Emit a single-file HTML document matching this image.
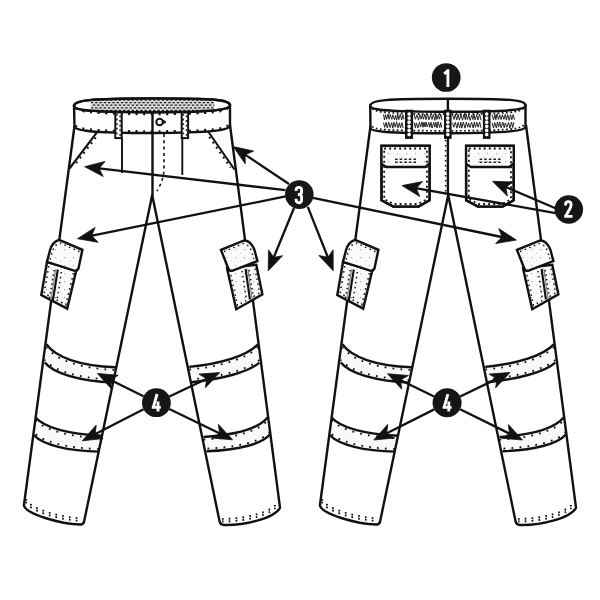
<!DOCTYPE html>
<html><head><meta charset="utf-8"><style>html,body{margin:0;padding:0;background:#fff;}svg{display:block;}</style></head>
<body><svg width="600" height="600" viewBox="0 0 600 600" font-family="Liberation Sans, sans-serif">
<defs>
<pattern id="stip" width="9" height="8" patternUnits="userSpaceOnUse">
<rect width="9" height="8" fill="#fbfbfb"/>
<rect x="1" y="1" width="1.2" height="1.2" fill="#aaa"/><rect x="6" y="4.5" width="1" height="1" fill="#ccc"/>
</pattern>
</defs>
<rect width="600" height="600" fill="#fff"/>
<g transform="translate(0,0)">
<path d="M46.4,344.2 C55,357 80,366 115.3,367.2 L113.5,382.6 C78,381 53,373 44.8,362.6 Z" fill="#f9f9f9" stroke="none"/>
<path d="M46.4,344.2 C55,357 80,366 115.3,367.2" fill="none" stroke="#111" stroke-width="2.4" />
<path d="M113.5,382.6 C78,381 53,373 44.8,362.6" fill="none" stroke="#111" stroke-width="2.4" />
<path d="M46.4,344.2 C55,357 80,366 115.3,367.2" fill="none" stroke="#111" stroke-width="1.8" stroke-dasharray="1.8 6.2" transform="translate(0,2.7)"/>
<path d="M113.5,382.6 C78,381 53,373 44.8,362.6" fill="none" stroke="#111" stroke-width="1.8" stroke-dasharray="1.8 6.2" transform="translate(0,-2.7)"/>
<path d="M35.6,417.5 C45,428 70,434 102.4,435.8 L99,451.6 C68,451 43,445 34,435.3 Z" fill="#f9f9f9" stroke="none"/>
<path d="M35.6,417.5 C45,428 70,434 102.4,435.8" fill="none" stroke="#111" stroke-width="2.4" />
<path d="M99,451.6 C68,451 43,445 34,435.3" fill="none" stroke="#111" stroke-width="2.4" />
<path d="M35.6,417.5 C45,428 70,434 102.4,435.8" fill="none" stroke="#111" stroke-width="1.8" stroke-dasharray="1.8 6.2" transform="translate(0,2.7)"/>
<path d="M99,451.6 C68,451 43,445 34,435.3" fill="none" stroke="#111" stroke-width="1.8" stroke-dasharray="1.8 6.2" transform="translate(0,-2.7)"/>
<path d="M189.2,366.9 C220,364 247,356 257.8,344.4 L259.3,362.6 C249,372 222,379 191.6,382.2 Z" fill="#f9f9f9" stroke="none"/>
<path d="M189.2,366.9 C220,364 247,356 257.8,344.4" fill="none" stroke="#111" stroke-width="2.4" />
<path d="M259.3,362.6 C249,372 222,379 191.6,382.2" fill="none" stroke="#111" stroke-width="2.4" />
<path d="M189.2,366.9 C220,364 247,356 257.8,344.4" fill="none" stroke="#111" stroke-width="1.8" stroke-dasharray="1.8 6.2" transform="translate(0,2.7)"/>
<path d="M259.3,362.6 C249,372 222,379 191.6,382.2" fill="none" stroke="#111" stroke-width="1.8" stroke-dasharray="1.8 6.2" transform="translate(0,-2.7)"/>
<path d="M203.5,437 C235,435 258,429 267.6,417.5 L269.8,434.5 C262,444 238,450 206.5,451.3 Z" fill="#f9f9f9" stroke="none"/>
<path d="M203.5,437 C235,435 258,429 267.6,417.5" fill="none" stroke="#111" stroke-width="2.4" />
<path d="M269.8,434.5 C262,444 238,450 206.5,451.3" fill="none" stroke="#111" stroke-width="2.4" />
<path d="M203.5,437 C235,435 258,429 267.6,417.5" fill="none" stroke="#111" stroke-width="1.8" stroke-dasharray="1.8 6.2" transform="translate(0,2.7)"/>
<path d="M269.8,434.5 C262,444 238,450 206.5,451.3" fill="none" stroke="#111" stroke-width="1.8" stroke-dasharray="1.8 6.2" transform="translate(0,-2.7)"/>
<path d="M74.5,126 L23.9,505.5 C26,514 60,524 80.5,524.5 Q83.6,524.3 84.1,521.5 L152.2,195 L219.6,521.5 Q220.3,524.8 224,525 C245,525.5 275,518 280,507.7 L230,125" fill="none" stroke="#111" stroke-width="2.4" stroke-linejoin="round"/>
<path d="M26,505.5 C28,514 60,524 82,524.5" transform="translate(0,-3.6)" fill="none" stroke="#111" stroke-width="1.8" stroke-dasharray="1.7 5.1"/>
<path d="M222,525 C245,525.5 275,518 278.5,507" transform="translate(0,-3.6)" fill="none" stroke="#111" stroke-width="1.8" stroke-dasharray="1.7 5.1"/>
<path d="M26,505.5 C28,514 60,524 82,524.5" transform="translate(0,-6.2)" fill="none" stroke="#111" stroke-width="1.8" stroke-dasharray="1.7 5.1"/>
<path d="M222,525 C245,525.5 275,518 278.5,507" transform="translate(0,-6.2)" fill="none" stroke="#111" stroke-width="1.8" stroke-dasharray="1.7 5.1"/>
<path d="M47,262 L41.3,295 L67.2,308.6 L76.3,270.3 Z" fill="url(#stip)" stroke="#111" stroke-width="2.4" />
<path d="M48.7,266 L44.2,293.3 L65.8,304.8 L73.8,272" fill="none" stroke="#111" stroke-width="1.6" stroke-dasharray="1.6 3.6"/>
<path d="M47,261.8 L50.2,249.5 Q52.5,242 59,239.8 L82.4,249.8 L78.6,268 Q77.5,271.2 74,270.6 Z" fill="url(#stip)" stroke="#111" stroke-width="2.4" />
<path d="M50,259.5 L53,250 Q55,244.5 60,243 L79.5,251.5" fill="none" stroke="#111" stroke-width="1.4" stroke-dasharray="1.5 3.5"/>
<path d="M57.8,269.5 L52.8,301" fill="none" stroke="#111" stroke-width="2.1" />
<path d="M55.6,269.5 L50.8,300.5" fill="none" stroke="#666" stroke-width="0.9" />
<path d="M54.2,270 L49.6,298" fill="none" stroke="#111" stroke-width="1.5" stroke-dasharray="1.5 3"/>
<path d="M61.4,272 L57.2,299" fill="none" stroke="#111" stroke-width="1.5" stroke-dasharray="1.5 3.5"/>
<path d="M227,268.2 L236.2,309.2 L262.4,294.4 L256.3,264.7 Z" fill="url(#stip)" stroke="#111" stroke-width="2.4" />
<path d="M229.8,270 L237.5,305.5 L259.6,293 L254.6,266.5" fill="none" stroke="#111" stroke-width="1.4" stroke-dasharray="1.5 3.5"/>
<path d="M220.9,249.8 L244.7,240.2 Q251.5,241.5 254.5,250 L257.4,261.1 L232,270.8 Q229.3,271.3 228.3,268.5 Z" fill="url(#stip)" stroke="#111" stroke-width="2.4" />
<path d="M224,251.5 L243.5,243.5 Q249,244.5 251.5,251 L253.8,259" fill="none" stroke="#111" stroke-width="1.4" stroke-dasharray="1.5 3.5"/>
<path d="M245.6,269 L249.9,299.3" fill="none" stroke="#111" stroke-width="2.1" />
<path d="M247.8,268.6 L252.1,299" fill="none" stroke="#666" stroke-width="0.9" />
<path d="M242,271 L246.2,298" fill="none" stroke="#111" stroke-width="1.5" stroke-dasharray="1.5 3.5"/>
<path d="M249.2,270 L253.2,297" fill="none" stroke="#111" stroke-width="1.5" stroke-dasharray="1.5 3"/>
</g>
<g transform="translate(296,0)">
<path d="M46.4,344.2 C55,357 80,366 115.3,367.2 L113.5,382.6 C78,381 53,373 44.8,362.6 Z" fill="#f9f9f9" stroke="none"/>
<path d="M46.4,344.2 C55,357 80,366 115.3,367.2" fill="none" stroke="#111" stroke-width="2.4" />
<path d="M113.5,382.6 C78,381 53,373 44.8,362.6" fill="none" stroke="#111" stroke-width="2.4" />
<path d="M46.4,344.2 C55,357 80,366 115.3,367.2" fill="none" stroke="#111" stroke-width="1.8" stroke-dasharray="1.8 6.2" transform="translate(0,2.7)"/>
<path d="M113.5,382.6 C78,381 53,373 44.8,362.6" fill="none" stroke="#111" stroke-width="1.8" stroke-dasharray="1.8 6.2" transform="translate(0,-2.7)"/>
<path d="M35.6,417.5 C45,428 70,434 102.4,435.8 L99,451.6 C68,451 43,445 34,435.3 Z" fill="#f9f9f9" stroke="none"/>
<path d="M35.6,417.5 C45,428 70,434 102.4,435.8" fill="none" stroke="#111" stroke-width="2.4" />
<path d="M99,451.6 C68,451 43,445 34,435.3" fill="none" stroke="#111" stroke-width="2.4" />
<path d="M35.6,417.5 C45,428 70,434 102.4,435.8" fill="none" stroke="#111" stroke-width="1.8" stroke-dasharray="1.8 6.2" transform="translate(0,2.7)"/>
<path d="M99,451.6 C68,451 43,445 34,435.3" fill="none" stroke="#111" stroke-width="1.8" stroke-dasharray="1.8 6.2" transform="translate(0,-2.7)"/>
<path d="M189.2,366.9 C220,364 247,356 257.8,344.4 L259.3,362.6 C249,372 222,379 191.6,382.2 Z" fill="#f9f9f9" stroke="none"/>
<path d="M189.2,366.9 C220,364 247,356 257.8,344.4" fill="none" stroke="#111" stroke-width="2.4" />
<path d="M259.3,362.6 C249,372 222,379 191.6,382.2" fill="none" stroke="#111" stroke-width="2.4" />
<path d="M189.2,366.9 C220,364 247,356 257.8,344.4" fill="none" stroke="#111" stroke-width="1.8" stroke-dasharray="1.8 6.2" transform="translate(0,2.7)"/>
<path d="M259.3,362.6 C249,372 222,379 191.6,382.2" fill="none" stroke="#111" stroke-width="1.8" stroke-dasharray="1.8 6.2" transform="translate(0,-2.7)"/>
<path d="M203.5,437 C235,435 258,429 267.6,417.5 L269.8,434.5 C262,444 238,450 206.5,451.3 Z" fill="#f9f9f9" stroke="none"/>
<path d="M203.5,437 C235,435 258,429 267.6,417.5" fill="none" stroke="#111" stroke-width="2.4" />
<path d="M269.8,434.5 C262,444 238,450 206.5,451.3" fill="none" stroke="#111" stroke-width="2.4" />
<path d="M203.5,437 C235,435 258,429 267.6,417.5" fill="none" stroke="#111" stroke-width="1.8" stroke-dasharray="1.8 6.2" transform="translate(0,2.7)"/>
<path d="M269.8,434.5 C262,444 238,450 206.5,451.3" fill="none" stroke="#111" stroke-width="1.8" stroke-dasharray="1.8 6.2" transform="translate(0,-2.7)"/>
<path d="M74.5,126 L23.9,505.5 C26,514 60,524 80.5,524.5 Q83.6,524.3 84.1,521.5 L152.2,195 L219.6,521.5 Q220.3,524.8 224,525 C245,525.5 275,518 280,507.7 L230,125" fill="none" stroke="#111" stroke-width="2.4" stroke-linejoin="round"/>
<path d="M26,505.5 C28,514 60,524 82,524.5" transform="translate(0,-3.6)" fill="none" stroke="#111" stroke-width="1.8" stroke-dasharray="1.7 5.1"/>
<path d="M222,525 C245,525.5 275,518 278.5,507" transform="translate(0,-3.6)" fill="none" stroke="#111" stroke-width="1.8" stroke-dasharray="1.7 5.1"/>
<path d="M26,505.5 C28,514 60,524 82,524.5" transform="translate(0,-6.2)" fill="none" stroke="#111" stroke-width="1.8" stroke-dasharray="1.7 5.1"/>
<path d="M222,525 C245,525.5 275,518 278.5,507" transform="translate(0,-6.2)" fill="none" stroke="#111" stroke-width="1.8" stroke-dasharray="1.7 5.1"/>
<path d="M47,262 L41.3,295 L67.2,308.6 L76.3,270.3 Z" fill="url(#stip)" stroke="#111" stroke-width="2.4" />
<path d="M48.7,266 L44.2,293.3 L65.8,304.8 L73.8,272" fill="none" stroke="#111" stroke-width="1.6" stroke-dasharray="1.6 3.6"/>
<path d="M47,261.8 L50.2,249.5 Q52.5,242 59,239.8 L82.4,249.8 L78.6,268 Q77.5,271.2 74,270.6 Z" fill="url(#stip)" stroke="#111" stroke-width="2.4" />
<path d="M50,259.5 L53,250 Q55,244.5 60,243 L79.5,251.5" fill="none" stroke="#111" stroke-width="1.4" stroke-dasharray="1.5 3.5"/>
<path d="M57.8,269.5 L52.8,301" fill="none" stroke="#111" stroke-width="2.1" />
<path d="M55.6,269.5 L50.8,300.5" fill="none" stroke="#666" stroke-width="0.9" />
<path d="M54.2,270 L49.6,298" fill="none" stroke="#111" stroke-width="1.5" stroke-dasharray="1.5 3"/>
<path d="M61.4,272 L57.2,299" fill="none" stroke="#111" stroke-width="1.5" stroke-dasharray="1.5 3.5"/>
<path d="M227,268.2 L236.2,309.2 L262.4,294.4 L256.3,264.7 Z" fill="url(#stip)" stroke="#111" stroke-width="2.4" />
<path d="M229.8,270 L237.5,305.5 L259.6,293 L254.6,266.5" fill="none" stroke="#111" stroke-width="1.4" stroke-dasharray="1.5 3.5"/>
<path d="M220.9,249.8 L244.7,240.2 Q251.5,241.5 254.5,250 L257.4,261.1 L232,270.8 Q229.3,271.3 228.3,268.5 Z" fill="url(#stip)" stroke="#111" stroke-width="2.4" />
<path d="M224,251.5 L243.5,243.5 Q249,244.5 251.5,251 L253.8,259" fill="none" stroke="#111" stroke-width="1.4" stroke-dasharray="1.5 3.5"/>
<path d="M245.6,269 L249.9,299.3" fill="none" stroke="#111" stroke-width="2.1" />
<path d="M247.8,268.6 L252.1,299" fill="none" stroke="#666" stroke-width="0.9" />
<path d="M242,271 L246.2,298" fill="none" stroke="#111" stroke-width="1.5" stroke-dasharray="1.5 3.5"/>
<path d="M249.2,270 L253.2,297" fill="none" stroke="#111" stroke-width="1.5" stroke-dasharray="1.5 3"/>
</g>
<path d="M74,106 L74.5,126.3 C74.5,130.5 90,133 152,133 C214,133 230,130 230,125.3 L230,105.3 Z" fill="#fff" stroke="#111" stroke-width="2.4" />
<path d="M74,106 C74,100.2 89,98.5 152.0,98.5 C215,98.5 230,99.5 230,105.3 C230,109.5 215,112.2 152.0,112.2 C89,112.2 74,110.2 74,106 Z" fill="#fff" stroke="#111" stroke-width="2.4" />
<clipPath id="wclip"><path d="M74,106 C74,100.2 89,98.5 152.0,98.5 C215,98.5 230,99.5 230,105.3 C230,109.5 215,112.2 152.0,112.2 C89,112.2 74,110.2 74,106 Z"/></clipPath><clipPath id="wclip2"><path d="M92,98 L213,98 Q215.5,105 213,112.5 L92,112.5 Q89.5,105 92,98 Z"/></clipPath>
<g clip-path="url(#wclip)"><g clip-path="url(#wclip2)"><rect x="88" y="97" width="130" height="16" fill="#dcdcdc"/>
<line x1="80" y1="100.0" x2="225" y2="100.0" stroke="#1c1c1c" stroke-width="1.25" stroke-dasharray="2.4 1.9" stroke-dashoffset="0.0"/>
<line x1="80" y1="102.6" x2="225" y2="102.6" stroke="#1c1c1c" stroke-width="1.25" stroke-dasharray="2.4 1.9" stroke-dashoffset="2.1"/>
<line x1="80" y1="105.2" x2="225" y2="105.2" stroke="#1c1c1c" stroke-width="1.25" stroke-dasharray="2.4 1.9" stroke-dashoffset="0.0"/>
<line x1="80" y1="107.8" x2="225" y2="107.8" stroke="#1c1c1c" stroke-width="1.25" stroke-dasharray="2.4 1.9" stroke-dashoffset="2.1"/>
<line x1="80" y1="110.4" x2="225" y2="110.4" stroke="#1c1c1c" stroke-width="1.25" stroke-dasharray="2.4 1.9" stroke-dashoffset="0.0"/>
</g></g>
<path d="M74,106 C74,100.2 89,98.5 152.0,98.5 C215,98.5 230,99.5 230,105.3 C230,109.5 215,112.2 152.0,112.2 C89,112.2 74,110.2 74,106 Z" fill="none" stroke="#111" stroke-width="2.4" />
<path d="M76,107.8 C76,110.8 89,114.1 152,114.1 C215,114.1 228,111.2 228,107.2" fill="none" stroke="#111" stroke-width="2.2" stroke-dasharray="2.1 5.5"/>
<path d="M76,125.2 C76,128.6 90,131.2 152,131.2 C214,131.2 228,128.4 228,124.2" fill="none" stroke="#111" stroke-width="2.1" stroke-dasharray="2 5.6"/>
<rect x="115.3" y="112.5" width="6.400000000000006" height="25.6" fill="#fff" stroke="#111" stroke-width="2"/>
<path d="M116.9,114 L116.9,137" fill="none" stroke="#222" stroke-width="1.6" stroke-dasharray="1.8 2.8"/>
<path d="M120.1,115.5 L120.1,137" fill="none" stroke="#222" stroke-width="1.6" stroke-dasharray="1.8 2.8"/>
<rect x="181.7" y="112.5" width="6.400000000000006" height="25.6" fill="#fff" stroke="#111" stroke-width="2"/>
<path d="M183.3,114 L183.3,137" fill="none" stroke="#222" stroke-width="1.6" stroke-dasharray="1.8 2.8"/>
<path d="M186.5,115.5 L186.5,137" fill="none" stroke="#222" stroke-width="1.6" stroke-dasharray="1.8 2.8"/>
<line x1="152.5" y1="112.0" x2="152.5" y2="195.5" stroke="#111" stroke-width="2.4" />
<path d="M164,134 L164,170 Q163.5,180 157,191" fill="none" stroke="#111" stroke-width="1.6" stroke-dasharray="3 3.3"/>
<path d="M163.2,120.2 L166,122 L163.2,123.8 Z" fill="#111" stroke="#111" stroke-width="1"/>
<circle cx="159.6" cy="122" r="3.3" fill="#fff" stroke="#111" stroke-width="2"/>
<line x1="122.0" y1="138.0" x2="122.0" y2="173.0" stroke="#111" stroke-width="1.9" />
<line x1="182.3" y1="138.0" x2="182.3" y2="175.0" stroke="#111" stroke-width="1.9" />
<line x1="97.3" y1="131.8" x2="69.5" y2="168.5" stroke="#111" stroke-width="2.1" />
<path d="M95.8,137.5 L74,166.1" fill="none" stroke="#111" stroke-width="2.0" stroke-dasharray="1.9 4.2"/>
<line x1="207.8" y1="131.0" x2="234.5" y2="169.5" stroke="#111" stroke-width="2.1" />
<path d="M209.2,136.9 L230.6,167.6" fill="none" stroke="#111" stroke-width="2.0" stroke-dasharray="1.9 4.2"/>
<path d="M370.2,105.8 L370.5,128 C370.5,131.6 386,133.2 448,133.2 C510,133.2 525.5,130.5 525.5,126.5 L525.5,105.4 Z" fill="#fff" stroke="#111" stroke-width="2.4" />
<path d="M370.2,105.8 C370.2,100.0 385.2,98.7 447.85,98.7 C510.5,98.7 525.5,99.60000000000001 525.5,105.4 C525.5,109.60000000000001 510.5,111.8 447.85,111.8 C385.2,111.8 370.2,110.0 370.2,105.8 Z" fill="#fff" stroke="#111" stroke-width="2.4" />
<polyline points="383.5,114.4 384.5,120.0 385.5,114.6 386.7,119.3 388.0,114.0 389.2,119.3 390.2,114.5 391.8,119.3 392.8,114.8 394.5,119.9 395.7,115.2 396.6,120.2 397.8,114.2 398.8,119.6 400.3,114.2 401.7,120.0 402.9,114.7 403.8,119.3" fill="none" stroke="#1a1a1a" stroke-width="0.95"/>
<polyline points="383.5,122.6 384.7,127.4 386.1,122.3 387.3,128.0 388.7,122.1 390.1,127.6 391.7,122.7 392.8,128.2 393.8,122.3 395.3,127.2 396.6,121.8 398.0,127.9 399.4,122.9 400.5,127.8 401.9,122.5 403.2,128.0" fill="none" stroke="#1a1a1a" stroke-width="0.95"/>
<polyline points="414.0,114.6 415.4,119.3 416.9,114.8 418.6,120.2 419.7,114.5 421.1,119.2 422.4,114.2 423.4,119.3 424.9,114.2 426.0,119.7 427.6,114.1 428.9,119.9 430.5,115.0 432.1,119.5 433.3,114.4 434.9,120.3 435.9,114.2 437.0,119.5 438.3,114.7 439.4,119.2 440.7,114.4 442.0,120.3" fill="none" stroke="#1a1a1a" stroke-width="0.95"/>
<polyline points="414.0,122.4 415.4,127.8 416.3,122.9 417.9,128.0 419.4,122.3 420.6,127.1 422.0,121.9 423.0,127.3 424.0,122.2 425.0,127.0 426.0,121.9 427.2,127.0 428.8,122.5 429.8,127.3 431.0,122.2 432.0,128.0 433.7,122.4 434.9,127.1 435.9,122.2 437.0,128.0 438.1,121.8 439.7,127.6 440.7,122.5 441.7,127.6" fill="none" stroke="#1a1a1a" stroke-width="0.95"/>
<polyline points="452.5,115.0 454.0,119.5 455.2,114.2 456.7,119.8 458.2,114.4 459.3,120.2 461.0,115.0 462.5,120.2 464.0,114.3 465.3,119.6 466.2,114.0 467.4,119.5 468.8,115.1 470.1,120.3 471.8,115.1 472.9,119.5 474.0,114.2 475.1,119.9 476.7,115.0 478.0,120.0 479.5,114.1 481.0,120.3" fill="none" stroke="#1a1a1a" stroke-width="0.95"/>
<polyline points="452.5,122.7 453.8,127.2 455.3,122.2 456.9,128.2 458.1,122.3 459.7,127.9 460.8,122.0 461.8,128.1 463.3,122.0 464.9,128.2 466.3,122.2 467.7,127.2 468.6,123.0 470.0,127.6 471.6,122.3 473.2,128.0 474.3,122.1 475.4,127.3 476.8,122.1 478.0,127.2 479.7,122.2 480.9,127.7" fill="none" stroke="#1a1a1a" stroke-width="0.95"/>
<polyline points="492.0,114.5 493.6,119.8 495.0,114.6 495.9,119.7 496.9,114.0 498.5,119.4 499.7,114.9 501.1,119.6 502.4,114.7 503.9,119.3 505.3,114.3 506.4,120.1 507.7,114.7 509.2,120.3 510.5,114.7 511.8,119.8 513.2,114.5 514.6,119.8" fill="none" stroke="#1a1a1a" stroke-width="0.95"/>
<polyline points="492.0,122.6 493.6,128.1 494.7,122.5 496.4,128.0 497.4,121.9 498.6,127.1 499.7,121.9 501.2,127.9 502.8,122.0 504.2,127.8 505.3,122.9 506.9,127.3 508.6,122.3 509.9,128.2 511.5,122.0 512.7,127.6 513.9,122.0" fill="none" stroke="#1a1a1a" stroke-width="0.95"/>
<path d="M372.5,108.5 C372.5,111.5 387,114.2 448,114.2 C509,114.2 523.5,111.8 523.5,107.5" fill="none" stroke="#111" stroke-width="1.7" stroke-dasharray="1.8 2.4"/>
<path d="M372.5,126.2 C372.5,129.6 387,130.8 448,130.8 C509,130.8 523.5,128.6 523.5,124.6" fill="none" stroke="#111" stroke-width="1.7" stroke-dasharray="1.8 2.4"/>
<rect x="405.8" y="110.5" width="6.5" height="27.6" fill="#1a1a1a" stroke="#111" stroke-width="1.6"/>
<ellipse cx="409.1" cy="114.0" rx="1.75" ry="1.85" fill="#fff"/>
<ellipse cx="409.1" cy="118.1" rx="1.75" ry="1.85" fill="#fff"/>
<ellipse cx="409.1" cy="122.2" rx="1.75" ry="1.85" fill="#fff"/>
<ellipse cx="409.1" cy="126.3" rx="1.75" ry="1.85" fill="#fff"/>
<ellipse cx="409.1" cy="130.4" rx="1.75" ry="1.85" fill="#fff"/>
<ellipse cx="409.1" cy="134.5" rx="1.75" ry="1.85" fill="#fff"/>
<rect x="444.8" y="110.5" width="6.0" height="27.6" fill="#1a1a1a" stroke="#111" stroke-width="1.6"/>
<ellipse cx="447.8" cy="114.0" rx="1.75" ry="1.85" fill="#fff"/>
<ellipse cx="447.8" cy="118.1" rx="1.75" ry="1.85" fill="#fff"/>
<ellipse cx="447.8" cy="122.2" rx="1.75" ry="1.85" fill="#fff"/>
<ellipse cx="447.8" cy="126.3" rx="1.75" ry="1.85" fill="#fff"/>
<ellipse cx="447.8" cy="130.4" rx="1.75" ry="1.85" fill="#fff"/>
<ellipse cx="447.8" cy="134.5" rx="1.75" ry="1.85" fill="#fff"/>
<rect x="483.7" y="110.5" width="6.0" height="27.6" fill="#1a1a1a" stroke="#111" stroke-width="1.6"/>
<ellipse cx="486.7" cy="114.0" rx="1.75" ry="1.85" fill="#fff"/>
<ellipse cx="486.7" cy="118.1" rx="1.75" ry="1.85" fill="#fff"/>
<ellipse cx="486.7" cy="122.2" rx="1.75" ry="1.85" fill="#fff"/>
<ellipse cx="486.7" cy="126.3" rx="1.75" ry="1.85" fill="#fff"/>
<ellipse cx="486.7" cy="130.4" rx="1.75" ry="1.85" fill="#fff"/>
<ellipse cx="486.7" cy="134.5" rx="1.75" ry="1.85" fill="#fff"/>
<line x1="447.9" y1="98.5" x2="447.9" y2="111.0" stroke="#111" stroke-width="2.4" />
<line x1="447.9" y1="138.0" x2="447.9" y2="194.5" stroke="#111" stroke-width="2.4" />
<path d="M445.6,140 L445.6,192" fill="none" stroke="#111" stroke-width="1.6" stroke-dasharray="1.6 3.4"/>
<path d="M381.5,145.8 L429.6,145.8 L429.6,200.2 L418.6,206.6 L393.3,206.6 L381.5,200.2 Z" fill="#fff" stroke="#111" stroke-width="2.4" />
<path d="M381.5,145.8 L429.6,145.8 L429.6,163.4 L425.3,167 L386.3,167 L381.5,164 Z" fill="url(#stip)" stroke="none"/>
<path d="M384.2,148.5 L426.90000000000003,148.5 L426.90000000000003,199.2 L418.0,204 L393.8,204 L384.2,199.2 Z" fill="none" stroke="#111" stroke-width="1.8" stroke-dasharray="1.9 3.1"/>
<path d="M381.5,164 L386.3,167 L425.3,167 L429.6,163.4" fill="none" stroke="#111" stroke-width="2.3" />
<path d="M381.5,145.8 L429.6,145.8 L429.6,200.2 L418.6,206.6 L393.3,206.6 L381.5,200.2 Z" fill="none" stroke="#111" stroke-width="2.3" />
<path d="M395.0,159.3 L417.6,159.3" fill="none" stroke="#222" stroke-width="1.6" stroke-dasharray="2.6 2"/>
<path d="M395.0,162.3 L417.6,162.3" fill="none" stroke="#222" stroke-width="1.6" stroke-dasharray="2.6 2"/>
<path d="M466.1,145.8 L513.7,145.8 L513.7,200.2 L502.70000000000005,206.6 L477.90000000000003,206.6 L466.1,200.2 Z" fill="#fff" stroke="#111" stroke-width="2.4" />
<path d="M466.1,145.8 L513.7,145.8 L513.7,163.4 L509.40000000000003,167 L470.90000000000003,167 L466.1,164 Z" fill="url(#stip)" stroke="none"/>
<path d="M468.8,148.5 L511.00000000000006,148.5 L511.00000000000006,199.2 L502.1,204 L478.40000000000003,204 L468.8,199.2 Z" fill="none" stroke="#111" stroke-width="1.8" stroke-dasharray="1.9 3.1"/>
<path d="M466.1,164 L470.90000000000003,167 L509.40000000000003,167 L513.7,163.4" fill="none" stroke="#111" stroke-width="2.3" />
<path d="M466.1,145.8 L513.7,145.8 L513.7,200.2 L502.70000000000005,206.6 L477.90000000000003,206.6 L466.1,200.2 Z" fill="none" stroke="#111" stroke-width="2.3" />
<path d="M479.6,159.3 L501.70000000000005,159.3" fill="none" stroke="#222" stroke-width="1.6" stroke-dasharray="2.6 2"/>
<path d="M479.6,162.3 L501.70000000000005,162.3" fill="none" stroke="#222" stroke-width="1.6" stroke-dasharray="2.6 2"/>
<line x1="289.0" y1="184.0" x2="243.6" y2="153.6" stroke="#111" stroke-width="2.3" />
<path d="M233.2,146.6 L253.6,151.1 L245.2,154.7 L245.2,163.8 Z" fill="#111" stroke="#111" stroke-width="0.8" stroke-linejoin="miter"/>
<line x1="285.5" y1="190.2" x2="97.1" y2="168.2" stroke="#111" stroke-width="2.3" />
<path d="M84.7,166.7 L105.0,161.4 L99.1,168.4 L103.2,176.5 Z" fill="#111" stroke="#111" stroke-width="0.8" stroke-linejoin="miter"/>
<line x1="285.5" y1="196.4" x2="89.7" y2="236.2" stroke="#111" stroke-width="2.3" />
<path d="M77.5,238.7 L95.1,227.4 L91.7,235.8 L98.1,242.3 Z" fill="#111" stroke="#111" stroke-width="0.8" stroke-linejoin="miter"/>
<line x1="294.0" y1="208.0" x2="273.0" y2="259.2" stroke="#111" stroke-width="2.3" />
<path d="M268.2,270.8 L268.6,249.9 L273.7,257.4 L282.6,255.7 Z" fill="#111" stroke="#111" stroke-width="0.8" stroke-linejoin="miter"/>
<line x1="307.8" y1="206.8" x2="328.6" y2="259.2" stroke="#111" stroke-width="2.3" />
<path d="M333.2,270.8 L318.9,255.5 L327.9,257.3 L333.1,249.9 Z" fill="#111" stroke="#111" stroke-width="0.8" stroke-linejoin="miter"/>
<line x1="313.0" y1="197.8" x2="504.1" y2="237.5" stroke="#111" stroke-width="2.3" />
<path d="M516.3,240.0 L495.7,243.5 L502.1,237.1 L498.8,228.6 Z" fill="#111" stroke="#111" stroke-width="0.8" stroke-linejoin="miter"/>
<line x1="555.5" y1="213.2" x2="414.3" y2="187.8" stroke="#111" stroke-width="2.3" />
<path d="M402.0,185.6 L422.5,181.6 L416.3,188.2 L419.8,196.5 Z" fill="#111" stroke="#111" stroke-width="0.8" stroke-linejoin="miter"/>
<line x1="555.5" y1="208.3" x2="504.0" y2="186.2" stroke="#111" stroke-width="2.3" />
<path d="M492.5,181.3 L513.4,182.0 L505.8,187.0 L507.4,196.0 Z" fill="#111" stroke="#111" stroke-width="0.8" stroke-linejoin="miter"/>
<line x1="143.5" y1="396.3" x2="108.6" y2="379.0" stroke="#111" stroke-width="2.3" />
<path d="M97.4,373.5 L118.2,375.3 L110.4,379.9 L111.5,389.0 Z" fill="#111" stroke="#111" stroke-width="0.8" stroke-linejoin="miter"/>
<line x1="143.6" y1="409.3" x2="93.4" y2="435.1" stroke="#111" stroke-width="2.3" />
<path d="M82.3,440.8 L96.2,425.1 L95.2,434.2 L103.1,438.6 Z" fill="#111" stroke="#111" stroke-width="0.8" stroke-linejoin="miter"/>
<line x1="169.4" y1="396.5" x2="208.5" y2="378.0" stroke="#111" stroke-width="2.3" />
<path d="M219.8,372.6 L205.4,387.8 L206.7,378.8 L198.9,374.1 Z" fill="#111" stroke="#111" stroke-width="0.8" stroke-linejoin="miter"/>
<line x1="169.3" y1="409.0" x2="221.4" y2="434.3" stroke="#111" stroke-width="2.3" />
<path d="M232.6,439.8 L211.7,438.1 L219.6,433.5 L218.4,424.4 Z" fill="#111" stroke="#111" stroke-width="0.8" stroke-linejoin="miter"/>
<line x1="434.1" y1="396.5" x2="398.7" y2="379.3" stroke="#111" stroke-width="2.3" />
<path d="M387.5,373.8 L408.4,375.5 L400.5,380.1 L401.7,389.2 Z" fill="#111" stroke="#111" stroke-width="0.8" stroke-linejoin="miter"/>
<line x1="434.2" y1="409.4" x2="384.9" y2="434.3" stroke="#111" stroke-width="2.3" />
<path d="M373.8,440.0 L387.7,424.4 L386.7,433.4 L394.6,438.0 Z" fill="#111" stroke="#111" stroke-width="0.8" stroke-linejoin="miter"/>
<line x1="460.2" y1="396.5" x2="498.7" y2="377.9" stroke="#111" stroke-width="2.3" />
<path d="M510.0,372.5 L495.7,387.8 L496.9,378.8 L489.1,374.1 Z" fill="#111" stroke="#111" stroke-width="0.8" stroke-linejoin="miter"/>
<line x1="460.1" y1="409.2" x2="511.3" y2="434.5" stroke="#111" stroke-width="2.3" />
<path d="M522.5,440.0 L501.6,438.2 L509.5,433.6 L508.4,424.6 Z" fill="#111" stroke="#111" stroke-width="0.8" stroke-linejoin="miter"/>
<circle cx="299.3" cy="194.6" r="14.3" fill="#161616"/><path d="M1.4,5 L1.4,4.1 Q1.4,1.4 4.15,1.4 Q6.9,1.4 6.9,4.2 L6.9,5.6 Q6.9,8.4 4.2,8.4 L3.1,8.4 M4.2,8.4 Q6.9,8.4 6.9,11.2 L6.9,13.6 Q6.9,16.6 4.15,16.6 Q1.4,16.6 1.4,13.8 L1.4,12.6" transform="translate(294.7,186) scale(1,1.005586592178771)" fill="none" stroke="#fff" stroke-width="2.85" stroke-linejoin="miter"/>
<circle cx="568.8" cy="209.5" r="14.3" fill="#161616"/><path d="M1.4,5.4 L1.4,4.2 Q1.4,1.4 4.15,1.4 Q6.9,1.4 6.9,4.3 Q6.9,6.4 5.6,8.6 L1.5,16.1 M0,16.1 L8.3,16.1" transform="translate(564.2,200.2) scale(1,1.0)" fill="none" stroke="#fff" stroke-width="2.85" stroke-linejoin="miter"/>
<circle cx="156.4" cy="402.7" r="14.4" fill="#161616"/><path d="M5.3,0 L1.5,13.3 M6.2,7.4 L6.2,17.4 M0,13.4 L9,13.4" transform="translate(151.8,394) scale(1.0,1.0)" fill="none" stroke="#fff" stroke-width="2.85" stroke-linejoin="miter"/>
<circle cx="447.1" cy="402.8" r="14.5" fill="#161616"/><path d="M5.3,0 L1.5,13.3 M6.2,7.4 L6.2,17.4 M0,13.4 L9,13.4" transform="translate(442.6,394.2) scale(1,0.9885057471264368)" fill="none" stroke="#fff" stroke-width="2.85" stroke-linejoin="miter"/>
<circle cx="446.2" cy="77.5" r="14.35" fill="#161616"/><path d="M4.9,0 L4.9,17.6 M5,1.2 L1.2,4.6" transform="translate(443,69.3) scale(1.0,1.0)" fill="none" stroke="#fff" stroke-width="2.85" stroke-linejoin="miter"/>
</svg></body></html>
